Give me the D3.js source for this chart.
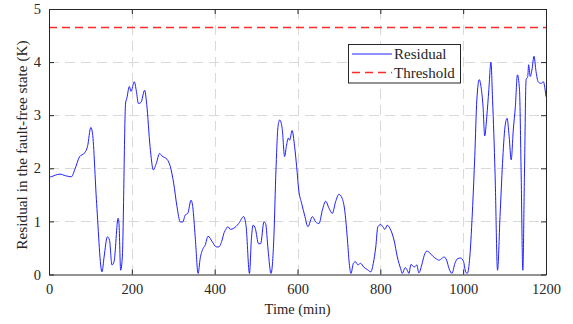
<!DOCTYPE html>
<html>
<head>
<meta charset="utf-8">
<script src="https://cdn.jsdelivr.net/npm/d3@7"></script>
<style>
  html, body { margin: 0; padding: 0; background: #fff; }
  svg { display: block; }
  text { font-family: "Liberation Serif", "Times New Roman", serif; fill: #262626; }
</style>
</head>
<body>
<svg id="chart" width="573" height="324"></svg>
<script>
// Residual time series (minutes, kelvin)
const timeMin = [
  0, 4, 15, 26, 40, 54, 62, 74, 86, 93, 101, 105, 115, 128, 133, 141, 146, 152, 157, 167,
  169, 173, 177, 185, 188, 194, 198, 206, 211, 216, 222, 231, 236, 244, 252, 259, 267, 273, 285, 293,
  301, 309, 317, 323, 329, 335, 343, 347, 353, 360, 365, 372, 377, 384, 394, 404, 410, 418, 422, 427,
  432, 438, 446, 458, 470, 476, 484, 489, 493, 498, 506, 511, 519, 523, 529, 536, 543, 548, 553, 557,
  563, 569, 573, 578, 581, 587, 593, 598, 603, 610, 618, 625, 636, 644, 652, 660, 668, 676, 684, 692,
  700, 708, 714, 720, 725, 729, 735, 740, 746, 752, 760, 769, 777, 783, 789, 794, 801, 806, 811, 817,
  823, 833, 841, 849, 853, 860, 865, 869, 874, 882, 888, 893, 900, 906, 912, 919, 926, 934, 942, 948,
  954, 960, 966, 973, 980, 987, 994, 1001, 1006, 1010, 1016, 1023, 1028, 1033, 1039, 1043, 1048, 1052, 1057, 1062,
  1067, 1071, 1077, 1083, 1089, 1095, 1101, 1106, 1111, 1116, 1121, 1126, 1131, 1136, 1140, 1144, 1148, 1152, 1156, 1158,
  1162, 1166, 1171, 1176, 1181, 1188, 1194, 1196, 1200
];
const residual = [
  1.84, 1.84, 1.87, 1.89, 1.86, 1.84, 1.97, 2.22, 2.29, 2.41, 2.77, 2.66, 1.34, 0.05, 0.33, 0.71, 0.65, 0.18, 0.24, 1.06,
  0.96, 0.08, 0.33, 3.23, 3.32, 3.54, 3.45, 3.63, 3.45, 3.22, 3.24, 3.47, 3.20, 2.41, 1.97, 2.09, 2.28, 2.23, 2.17, 2.03,
  1.72, 1.28, 0.99, 0.99, 1.12, 1.15, 1.40, 1.28, 0.71, 0.02, 0.30, 0.49, 0.55, 0.72, 0.62, 0.52, 0.52, 0.65, 0.77, 0.85,
  0.90, 0.85, 0.87, 0.96, 1.09, 0.90, 0.02, 0.71, 0.93, 0.87, 0.58, 0.58, 0.99, 0.96, 0.46, 0.02, 0.71, 1.97, 2.79, 2.91,
  2.75, 2.22, 2.41, 2.57, 2.53, 2.71, 2.41, 2.03, 1.59, 1.34, 1.09, 0.90, 1.09, 0.99, 0.96, 1.21, 1.38, 1.25, 1.15, 1.37,
  1.51, 1.43, 1.21, 0.71, 0.21, 0.02, 0.21, 0.24, 0.18, 0.21, 0.14, 0.09, 0.05, 0.21, 0.52, 0.90, 0.94, 0.90, 0.85, 0.93,
  0.87, 0.65, 0.33, 0.11, 0.02, 0.13, 0.08, 0.02, 0.19, 0.14, 0.18, 0.03, 0.18, 0.36, 0.44, 0.41, 0.35, 0.30, 0.27, 0.30,
  0.33, 0.27, 0.11, 0.02, 0.21, 0.30, 0.31, 0.24, 0.05, 0.02, 0.33, 1.30, 2.22, 3.29, 3.67, 3.54, 3.16, 2.61, 2.97, 3.48,
  4.00, 3.29, 1.91, 0.08, 1.09, 2.09, 2.78, 2.94, 2.60, 2.16, 2.72, 3.16, 3.76, 3.48, 1.91, 0.08, 1.91, 3.67, 3.73, 3.95,
  3.73, 3.85, 4.11, 3.82, 3.63, 3.60, 3.63, 3.57, 3.35
];
const thresholdValue = 4.65;

const xTicks = [0, 200, 400, 600, 800, 1000, 1200];
const yTicks = [0, 1, 2, 3, 4, 5];
const legendLabels = ["Residual", "Threshold"];

const svg = d3.select("#chart");
const plot = { left: 49, right: 546, top: 9, bottom: 274.5 };

const x = d3.scaleLinear().domain([0, 1200]).range([plot.left, plot.right]);
const y = d3.scaleLinear().domain([0, 5]).range([plot.bottom, plot.top]);

const axisColor = "#262626";

// grid
const grid = svg.append("g").attr("stroke", "#d9d9d9").attr("stroke-width", 1)
  .attr("stroke-dasharray", "10,6");
grid.selectAll("line.gx").data(xTicks.slice(1, -1)).join("line")
  .attr("x1", d => Math.round(x(d)) + 0.5).attr("x2", d => Math.round(x(d)) + 0.5)
  .attr("y1", plot.top).attr("y2", plot.bottom);
grid.selectAll("line.gy").data(yTicks.slice(1, -1)).join("line")
  .attr("y1", d => Math.round(y(d)) + 0.5).attr("y2", d => Math.round(y(d)) + 0.5)
  .attr("x1", plot.left).attr("x2", plot.right);

// residual curve
const series = timeMin.map((t, i) => ({ t, v: residual[i] }));
const line = d3.line().x(d => x(d.t)).y(d => y(d.v)).curve(d3.curveMonotoneX);
svg.append("path").datum(series)
  .attr("fill", "none").attr("stroke", "#1f1fff").attr("stroke-width", 1)
  .attr("d", line);

// threshold
svg.append("line")
  .attr("x1", x(0)).attr("x2", x(1200))
  .attr("y1", y(thresholdValue)).attr("y2", y(thresholdValue))
  .attr("stroke", "#ff2a2a").attr("stroke-width", 1.5).attr("stroke-dasharray", "8,5");

// axes (box with inward ticks on all sides)
const fontSize = "14.5px";
const fmt = d3.format("d");
const bottomAxis = d3.axisBottom(x).tickValues(xTicks).tickFormat(fmt).tickSizeInner(-5).tickSizeOuter(0).tickPadding(9);
const leftAxis = d3.axisLeft(y).tickValues(yTicks).tickFormat(fmt).tickSizeInner(-5).tickSizeOuter(0).tickPadding(8);
const topAxis = d3.axisTop(x).tickValues(xTicks).tickSizeInner(-5).tickSizeOuter(0).tickFormat("");
const rightAxis = d3.axisRight(y).tickValues(yTicks).tickSizeInner(-5).tickSizeOuter(0).tickFormat("");

function styleAxis(g) {
  g.select(".domain").attr("stroke", axisColor);
  g.selectAll(".tick line").attr("stroke", axisColor);
  g.selectAll(".tick text").attr("fill", axisColor)
    .style("font-family", "'Liberation Serif', 'Times New Roman', serif")
    .style("font-size", fontSize);
}

svg.append("g").attr("transform", `translate(0,${plot.bottom})`).call(bottomAxis).call(styleAxis);
svg.append("g").attr("transform", `translate(${plot.left},0)`).call(leftAxis).call(styleAxis);
svg.append("g").attr("transform", `translate(0,${plot.top})`).call(topAxis).call(styleAxis);
svg.append("g").attr("transform", `translate(${plot.right},0)`).call(rightAxis).call(styleAxis);

// axis titles
svg.append("text")
  .attr("x", (plot.left + plot.right) / 2).attr("y", 314)
  .attr("text-anchor", "middle").style("font-size", fontSize)
  .text("Time (min)");
svg.append("text")
  .attr("transform", "translate(27,145) rotate(-90)")
  .attr("text-anchor", "middle").style("font-size", "15.3px")
  .text("Residual in the fault-free state (K)");

// legend
const legend = svg.append("g");
legend.append("rect")
  .attr("x", 348.5).attr("y", 44.5).attr("width", 112).attr("height", 38.5)
  .attr("fill", "#fff").attr("stroke", axisColor).attr("stroke-width", 1);
const legendStyles = [
  { stroke: "#1f1fff", width: 1, dash: null },
  { stroke: "#ff2a2a", width: 1.5, dash: "8,5" }
];
legendLabels.forEach((label, i) => {
  const cy = 54 + i * 18.5;
  legend.append("line")
    .attr("x1", 352).attr("x2", 392).attr("y1", cy).attr("y2", cy)
    .attr("stroke", legendStyles[i].stroke).attr("stroke-width", legendStyles[i].width)
    .attr("stroke-dasharray", legendStyles[i].dash);
  legend.append("text")
    .attr("x", 394).attr("y", cy + 5)
    .style("font-size", "15px")
    .text(label);
});
</script>
</body>
</html>
